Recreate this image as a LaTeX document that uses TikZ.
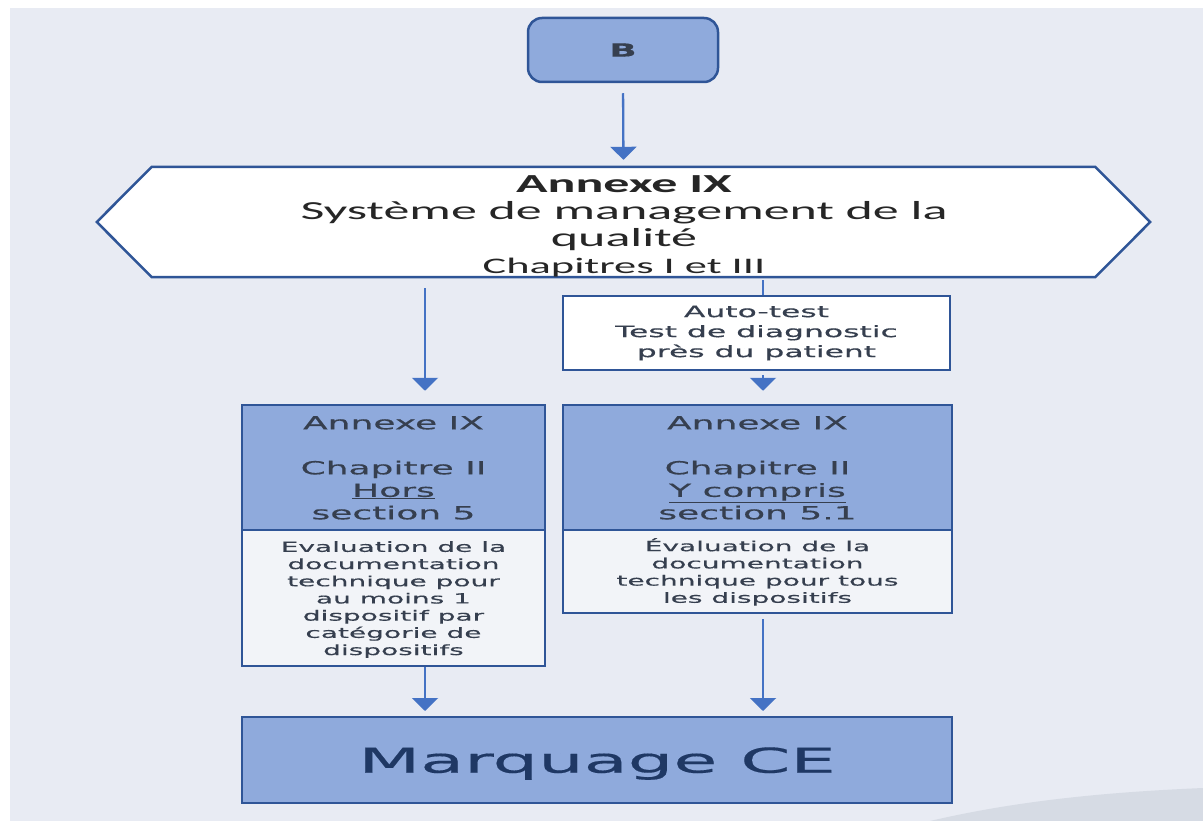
\documentclass[tikz,border=0pt]{standalone}
\usepackage{fontspec}
\usetikzlibrary{arrows.meta,backgrounds,calc}

% Fonts: wide sans for the boxes, Calibri-metric for the banner
\newfontfamily\boxfont[FakeStretch=2.0,FakeBold=0.5]{DejaVu Sans}
\newfontfamily\hexfont[FakeStretch=2.0]{Carlito}
\newfontfamily\cefont[FakeStretch=2.1,FakeBold=0.4]{DejaVu Sans}

\definecolor{pagebg}{HTML}{E8EBF3}
\definecolor{boxfill}{HTML}{8FAADC}
\definecolor{boxline}{HTML}{2F5597}
\definecolor{arrowblue}{HTML}{4472C4}
\definecolor{textdark}{HTML}{363F4F}
\definecolor{hextext}{HTML}{262626}
\definecolor{cenavy}{HTML}{1F3864}
\definecolor{notefill}{HTML}{F2F4F8}
\definecolor{swoosh}{HTML}{D6DBE4}

\begin{document}
\begin{tikzpicture}[x=1pt,y=-1pt,
  bluebox/.style={draw=boxline, line width=2.5pt, fill=boxfill, inner sep=0pt},
  notebox/.style={draw=boxline, line width=2.5pt, fill=notefill, inner sep=0pt},
  whitebox/.style={draw=boxline, line width=2.5pt, fill=white, inner sep=0pt},
  annextext/.style={inner sep=0pt, align=center, text=textdark,
    font=\boxfont\fontsize{18}{22.5}\selectfont},
  notetext/.style={inner sep=0pt, align=center, text=textdark,
    font=\boxfont\fontsize{14}{17.2}\selectfont},
  arr/.style={draw=arrowblue, line width=2.3pt, -{Triangle[width=26pt,length=13pt]}},
  link/.style={draw=arrowblue, line width=2.3pt}
]
\useasboundingbox (0,0) rectangle (1203,821);

% start box
\node[bluebox, rounded corners=14pt, minimum width=190, minimum height=64,
      text=textdark, font=\boxfont\bfseries\fontsize{18}{20}\selectfont]
  (B) at (623,50) {B};

% banner (outline drawn on the background layer)
\node[minimum width=943, minimum height=110, inner sep=0pt] (hex) at (623.5,222) {};
\node[inner sep=0pt, align=center, text=hextext,
      font=\hexfont\fontsize{26}{27}\selectfont] (hextxt) at (624,226)
  {{\bfseries Annexe IX}\\
   Système de management de la\\
   qualité\\
   {\fontsize{22.2}{25}\selectfont Chapitres I et III}};

% device category note
\node[whitebox, minimum width=387, minimum height=74, align=center, text=textdark,
      font=\boxfont\fontsize{15.7}{20}\selectfont]
  (auto) at (756.5,333) {Auto-test\\Test de diagnostic\\près du patient};

% Annex IX chapter boxes
\node[bluebox, minimum width=303, minimum height=125] (ann1) at (393.5,467.5) {};
\node[bluebox, minimum width=389, minimum height=125] (ann2) at (757.5,467.5) {};
\node[annextext, anchor=north] (ann1txt) at (393.5,416)
  {Annexe IX\\[22.5pt]Chapitre II\\\underline{Hors}\\section 5};
\node[annextext, anchor=north] (ann2txt) at (757.5,416)
  {Annexe IX\\[22.5pt]Chapitre II\\\underline{Y compris}\\section 5.1};

% technical documentation assessment
\node[notebox, minimum width=303, minimum height=136] (ev1) at (393.5,598) {};
\node[notebox, minimum width=389, minimum height=83] (ev2) at (757.5,571.5) {};
\node[notetext, anchor=north] (ev1txt) at (393.5,541)
  {Evaluation de la\\documentation\\technique pour\\au moins 1\\dispositif par\\catégorie de\\dispositifs};
\node[notetext, anchor=north] (ev2txt) at (757.5,538)
  {Évaluation de la\\documentation\\technique pour tous\\les dispositifs};

% CE marking
\node[bluebox, line width=2pt, minimum width=710, minimum height=86, text=cenavy,
      text depth=0pt, font=\cefont\fontsize{34.2}{36}\selectfont]
  (ce) at (597,760) {Marquage CE};

% arrow columns
\coordinate (colL) at (425,0);
\coordinate (colR) at (763,0);

\draw[arr, shorten <=10pt, shorten >=7pt] (B.south) -- (hex.north);
\draw[arr, shorten <=11pt, shorten >=13pt] (hex.south -| colL) -- (ann1.north -| colL);
\draw[link, shorten <=3pt] (hex.south -| colR) -- (auto.north -| colR);
\draw[arr, shorten <=4pt, shorten >=13pt] (auto.south -| colR) -- (ann2.north -| colR);
\draw[arr, shorten >=5pt] (ev1.south -| colL) -- (ce.north -| colL);
\draw[arr, shorten <=5pt, shorten >=5pt] (ev2.south -| colR) -- (ce.north -| colR);

\begin{pgfonlayer}{background}
  % slide background
  \fill[white] (0,0) rectangle (1203,821);
  \fill[pagebg] (10,8) rectangle (1203,821);
  \fill[swoosh] (930,821) .. controls (1020,800) and (1110,792) .. (1203,788)
    -- (1203,821) -- cycle;
  % banner outline
  \draw[draw=boxline, line width=2.5pt, fill=white, line join=miter]
    (hex.north west) -- (hex.north east) -- ($(hex.east)+(55,0)$)
    -- (hex.south east) -- (hex.south west) -- ($(hex.west)+(-55,0)$) -- cycle;
\end{pgfonlayer}
\end{tikzpicture}
\end{document}
